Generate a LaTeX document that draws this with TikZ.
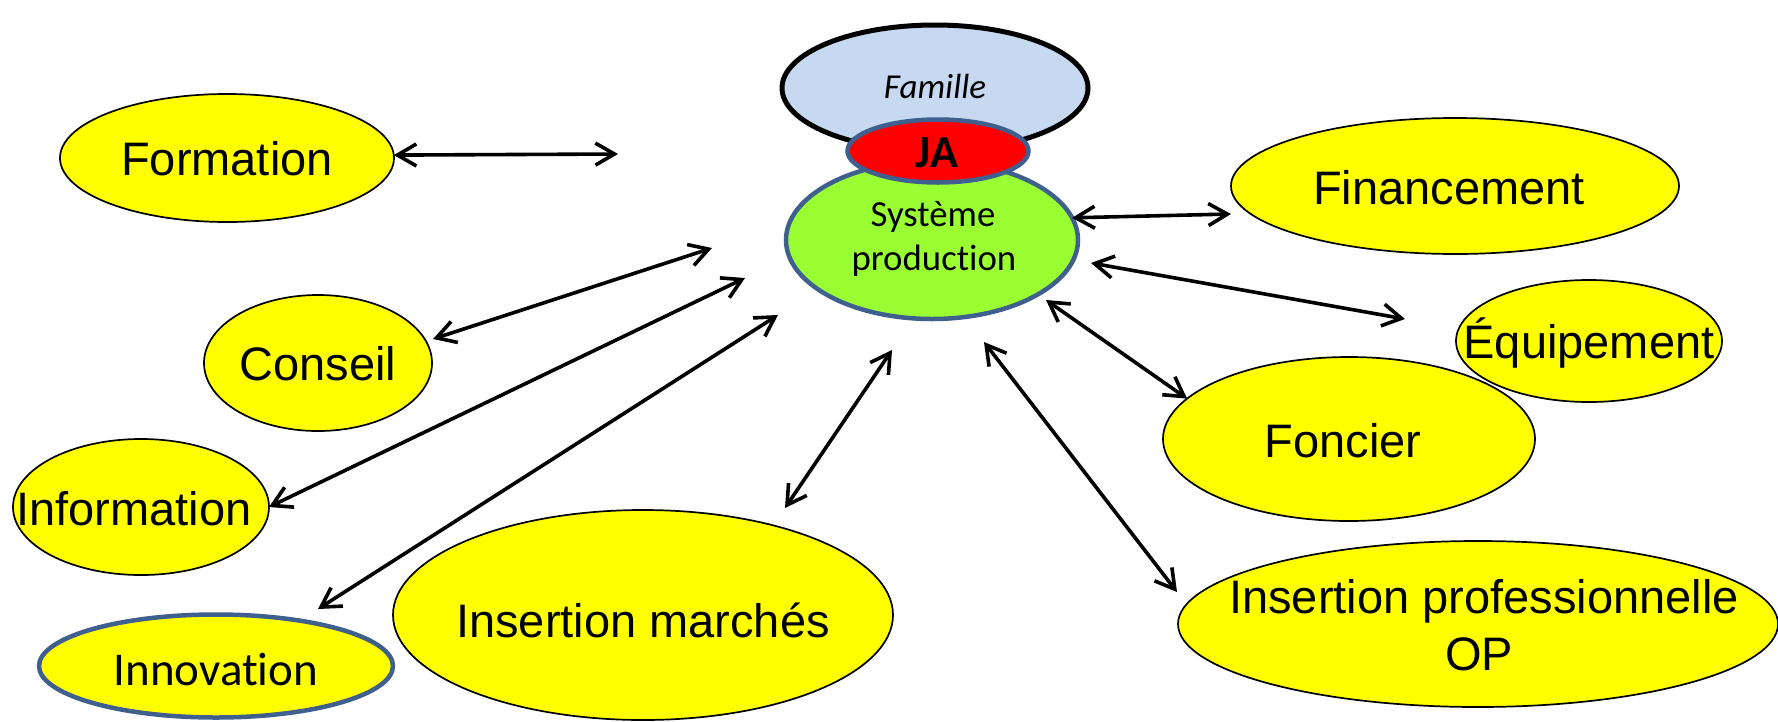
\documentclass[tikz,border=0pt]{standalone}
\usepackage{fontspec}
\setmainfont{Liberation Sans}
\newfontfamily\calib[Ligatures={NoCommon,NoContextual}]{Carlito}
\usetikzlibrary{shapes.geometric,arrows.meta}
\definecolor{yel}{HTML}{FFFF00}
\definecolor{grn}{HTML}{99FF33}
\definecolor{famblue}{HTML}{C6D9F1}
\definecolor{jared}{HTML}{FF0000}
\definecolor{edgeblue}{HTML}{3F5F8E}
\begin{document}
\begin{tikzpicture}[x=1pt,y=-1pt,
  oval/.style={ellipse, inner sep=0pt, outer sep=0pt},
  yoval/.style={oval, fill=yel, draw=black, line width=1.7pt},
  lbl/.style={anchor=base, inner sep=0pt, font=\fontsize{47}{56}\selectfont},
  clbl/.style={anchor=base, inner sep=0pt, font=\calib\fontsize{36.8}{44}\selectfont},
  >={Straight Barb[length=19pt,width=22pt]},
  conn/.style={line width=3.6pt, <->}
]
\useasboundingbox[fill=white] (0,0) rectangle (1778,721);
% peripheral ovals
\node[yoval, minimum width=334pt, minimum height=128pt] (form) at (227,158) {};
\node[yoval, minimum width=228pt, minimum height=136pt] (cons) at (318,363) {};
\node[yoval, minimum width=256pt, minimum height=136pt] (info) at (141,507) {};
\node[oval, fill=yel, draw=edgeblue, line width=4.5pt, minimum width=354pt, minimum height=103pt] (inno) at (216,666) {};
\node[yoval, minimum width=500pt, minimum height=210pt] (imar) at (643,615) {};
\node[yoval, minimum width=448pt, minimum height=136pt] (fin) at (1455,186) {};
\node[yoval, minimum width=266pt, minimum height=122pt] (equ) at (1589,341) {};
\node[yoval, minimum width=372pt, minimum height=164pt] (fonc) at (1349,439) {};
\node[yoval, minimum width=600pt, minimum height=166pt] (ipro) at (1478,624) {};
% central group
\node[oval, fill=famblue, draw=black, line width=5pt, minimum width=306pt, minimum height=126pt] (fam) at (935,88) {};
\node[oval, fill=grn, draw=edgeblue, line width=4.5pt, minimum width=292pt, minimum height=158pt] (sys) at (932,240) {};
\node[oval, fill=jared, draw=edgeblue, line width=4.5pt, minimum width=181pt, minimum height=63pt] (ja) at (938,151) {};
% texts
\node[lbl] (formT) at (227,175) {Formation};
\node[lbl] (consT) at (318,380) {Conseil};
\node[lbl] (infoT) at (134,525) {Information};
\node[lbl, font=\calib\fontsize{47}{56}\selectfont] (innoT) at (216,685) {Innovation};
\node[lbl] (imarT) at (643,637) {Insertion marchés};
\node[lbl] (finT) at (1449,204) {Financement};
\node[lbl] (equT) at (1589,358) {Équipement};
\node[lbl] (foncT) at (1343,457) {Foncier};
\node[lbl] (iproT1) at (1484,613) {Insertion professionnelle};
\node[lbl] (iproT2) at (1479,670) {OP};
\node[clbl, font=\calib\itshape\fontsize{35}{42}\selectfont] (famT) at (935,98) {Famille};
\node[clbl, font=\calib\bfseries\fontsize{46}{55}\selectfont] (jaT) at (937,167) {JA};
\node[clbl] (sysT1) at (933,226) {Système};
\node[clbl] (sysT2) at (934,270) {production};
% free arrow ends
\coordinate (pForm) at (618,154);
\coordinate (pCons1) at (433,339);
\coordinate (pCons2) at (712,248);
\coordinate (pInfo) at (745,278);
\coordinate (pInno1) at (318,609);
\coordinate (pInno2) at (778,315);
\coordinate (pImar1) at (785,508);
\coordinate (pImar2) at (892,350);
\coordinate (pFin) at (1231,214);
\coordinate (pEqu1) at (1091,263);
\coordinate (pEqu2) at (1405,319);
\coordinate (pFonc) at (1046,300);
\coordinate (pIpro1) at (984,342);
\coordinate (pIpro2) at (1177,592);
% connectors
\draw[conn] (form.1) -- (pForm);
\draw[conn] (pCons1) -- (pCons2);
\draw[conn] (info.east) -- (pInfo);
\draw[conn] (pInno1) -- (pInno2);
\draw[conn] (pImar1) -- (pImar2);
\draw[conn] (sys.9) -- (pFin);
\draw[conn] (pEqu1) -- (pEqu2);
\draw[conn] (pFonc) -- (fonc.166);
\draw[conn] (pIpro1) -- (pIpro2);
\end{tikzpicture}
\end{document}
